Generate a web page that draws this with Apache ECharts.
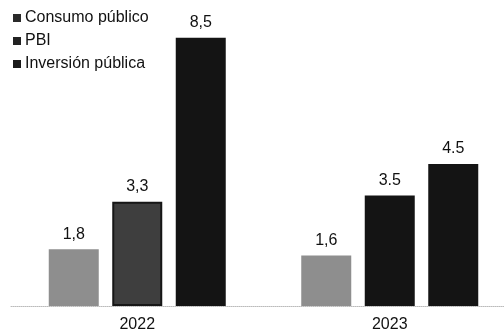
<!DOCTYPE html>
<html>
<head>
<meta charset="utf-8">
<script src="https://cdn.jsdelivr.net/npm/echarts@6/dist/echarts.min.js"></script>
<style>html,body{margin:0;padding:0;background:#fff;overflow:hidden}#c{width:516px;height:333px}</style>
</head>
<body>
<div id="c"></div>
<script>
var categories = ['2022', '2023'];
var seriesNames = ['Consumo público', 'PBI', 'Inversión pública'];
var consumo = [1.8, 1.6];
var pbi = [3.3, 3.5];
var inversion = [8.5, 4.5];
var consumoLabels = ['1,8', '1,6'];
var pbiLabels = ['3,3', '3.5'];
var inversionLabels = ['8,5', '4.5'];

var font = 'Liberation Sans, Arial, sans-serif';
function lbl(arr) {
  return {
    show: true, position: 'top', distance: 7,
    fontFamily: font, fontSize: 16, color: '#111',
    formatter: function (p) { return arr[p.dataIndex]; }
  };
}
var chart = echarts.init(document.getElementById('c'));
chart.setOption({
  animation: false,
  backgroundColor: '#fff',
  grid: { left: 11, top: 22, bottom: 27, right: 0 },
  legend: {
    orient: 'vertical', left: 13, top: 10, padding: 0,
    itemWidth: 8, itemHeight: 8, itemGap: 7,
    textStyle: { fontFamily: font, fontSize: 16, color: '#111', padding: [0, 0, 0, -1] },
    data: [
      { name: seriesNames[0], icon: 'rect', itemStyle: { color: '#2a2a2a' } },
      { name: seriesNames[1], icon: 'rect', itemStyle: { color: '#222' } },
      { name: seriesNames[2], icon: 'rect', itemStyle: { color: '#1a1a1a' } }
    ]
  },
  xAxis: {
    type: 'category', data: categories,
    axisLine: { lineStyle: { color: '#bbb', type: 'dotted', width: 1 } },
    axisTick: { show: false },
    axisLabel: { fontFamily: font, fontSize: 16, color: '#111', margin: 11 }
  },
  yAxis: { type: 'value', min: 0, max: 9, show: false, splitLine: { show: false } },
  series: [
    { name: seriesNames[0], type: 'bar', data: consumo, barWidth: 50, barGap: '27%',
      itemStyle: { color: '#8e8e8e' }, label: lbl(consumoLabels) },
    { name: seriesNames[1], type: 'bar', data: [
        { value: pbi[0], itemStyle: { color: '#3e3e3e', borderColor: '#161616', borderWidth: 2 } },
        { value: pbi[1], itemStyle: { color: '#141414' } }
      ], barWidth: 50, barGap: '27%',
      itemStyle: { color: '#222' }, label: lbl(pbiLabels) },
    { name: seriesNames[2], type: 'bar', data: inversion, barWidth: 50, barGap: '27%',
      itemStyle: { color: '#141414' }, label: lbl(inversionLabels) }
  ]
});
</script>
</body>
</html>
